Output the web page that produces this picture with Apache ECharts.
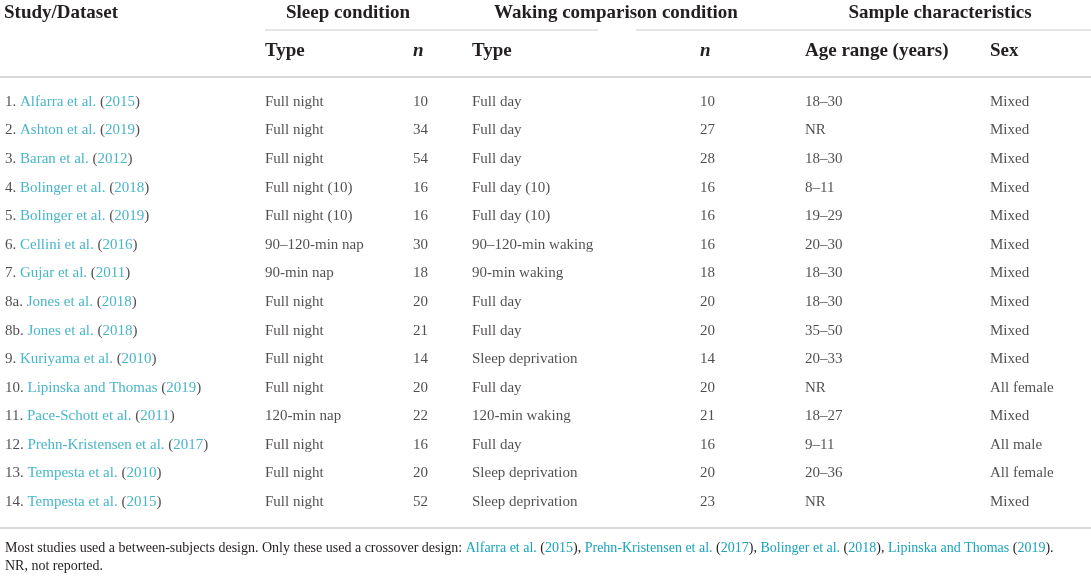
<!DOCTYPE html>
<html>
<head>
<meta charset="utf-8">
<script src="https://cdn.jsdelivr.net/npm/echarts@6/dist/echarts.min.js"></script>
<style>
  html, body { margin: 0; padding: 0; background: #fff; }
  #chart1 { width: 1091px; height: 578px; }
</style>
</head>
<body>
<div id="chart1"></div>
<script>
// table content
var studyIds = ['1.', '2.', '3.', '4.', '5.', '6.', '7.', '8a.', '8b.', '9.', '10.', '11.', '12.', '13.', '14.'];
var studyAuthors = ['Alfarra et al.', 'Ashton et al.', 'Baran et al.', 'Bolinger et al.', 'Bolinger et al.',
    'Cellini et al.', 'Gujar et al.', 'Jones et al.', 'Jones et al.', 'Kuriyama et al.',
    'Lipinska and Thomas', 'Pace-Schott et al.', 'Prehn-Kristensen et al.', 'Tempesta et al.', 'Tempesta et al.'];
var studyYears = ['2015', '2019', '2012', '2018', '2019', '2016', '2011', '2018', '2018', '2010',
    '2019', '2011', '2017', '2010', '2015'];
var sleepType = ['Full night', 'Full night', 'Full night', 'Full night (10)', 'Full night (10)',
    '90–120-min nap', '90-min nap', 'Full night', 'Full night', 'Full night',
    'Full night', '120-min nap', 'Full night', 'Full night', 'Full night'];
var sleepN = [10, 34, 54, 16, 16, 30, 18, 20, 21, 14, 20, 22, 16, 20, 52];
var wakeType = ['Full day', 'Full day', 'Full day', 'Full day (10)', 'Full day (10)',
    '90–120-min waking', '90-min waking', 'Full day', 'Full day', 'Sleep deprivation',
    'Full day', '120-min waking', 'Full day', 'Sleep deprivation', 'Sleep deprivation'];
var wakeN = [10, 27, 28, 16, 16, 16, 18, 20, 20, 14, 20, 21, 16, 20, 23];
var ageRange = ['18–30', 'NR', '18–30', '8–11', '19–29', '20–30', '18–30', '18–30', '35–50', '20–33',
    'NR', '18–27', '9–11', '20–36', 'NR'];
var sex = ['Mixed', 'Mixed', 'Mixed', 'Mixed', 'Mixed', 'Mixed', 'Mixed', 'Mixed', 'Mixed', 'Mixed',
    'All female', 'Mixed', 'All male', 'All female', 'Mixed'];

var crossoverAuthors = ['Alfarra et al.', 'Prehn-Kristensen et al.', 'Bolinger et al.', 'Lipinska and Thomas'];
var crossoverYears = ['2015', '2017', '2018', '2019'];

// layout
var SERIF = '"Liberation Serif", "DejaVu Serif", serif';
var INK = '#231f20';
var LINK = '#1aa3bb';
var RULE = '#cccccc';
var colX = { study: 5, sleepType: 265, sleepN: 413, wakeType: 472, wakeN: 700, age: 805, sex: 990 };

var rich = {
    k: { color: INK, fontSize: 15, fontFamily: SERIF },
    c: { color: LINK, fontSize: 15, fontFamily: SERIF }
};

function column(x, values, formatter) {
    return {
        type: 'scatter',
        silent: true,
        symbolSize: 0,
        itemStyle: { color: 'rgba(0,0,0,0)' },
        label: {
            show: true,
            position: 'right',
            distance: 0,
            color: INK,
            fontSize: 15,
            fontFamily: SERIF,
            rich: rich,
            formatter: formatter || function (p) { return String(values[p.dataIndex]); }
        },
        data: values.map(function (v, i) { return [x, i]; })
    };
}

function cite(author, year) {
    return '{c|' + author + '}{k| (}{c|' + year + '}{k|)}';
}

var footParts = crossoverAuthors.map(function (a, i) { return cite(a, crossoverYears[i]); });
var footText = '{k|Most studies used a between-subjects design. Only these used a crossover design: }' +
    footParts.join('{k|, }') + '{k|.}';

function headText(text, x, y, align, italic) {
    return {
        type: 'text',
        silent: true,
        style: {
            text: text,
            x: x,
            y: y,
            fill: INK,
            font: (italic ? 'italic ' : '') + 'bold 19px ' + SERIF,
            align: align || 'left',
            verticalAlign: 'middle'
        }
    };
}

function rule(x1, x2, y, w) {
    return {
        type: 'line',
        silent: true,
        shape: { x1: x1, y1: y, x2: x2, y2: y },
        style: { stroke: RULE, lineWidth: w || 1.5 }
    };
}

var myChart = echarts.init(document.getElementById('chart1'));

option = {
    animation: false,
    grid: { left: 0, right: 0, top: 87.7, height: 428.6 },
    xAxis: { type: 'value', min: 0, max: 1091, show: false },
    yAxis: {
        type: 'category',
        inverse: true,
        show: false,
        data: studyIds
    },
    graphic: [
        headText('Study/Dataset', 4, 13),
        headText('Sleep condition', 348, 13, 'center'),
        headText('Waking comparison condition', 616, 13, 'center'),
        headText('Sample characteristics', 940, 13, 'center'),
        headText('Type', 265, 51),
        headText('n', colX.sleepN, 51, 'left', true),
        headText('Type', 472, 51),
        headText('n', colX.wakeN, 51, 'left', true),
        headText('Age range (years)', 805, 51),
        headText('Sex', 990, 51),
        rule(265, 598, 30, 1.2),
        rule(636, 1091, 30, 1.2),
        rule(0, 1091, 77, 1.5),
        rule(0, 1091, 528, 1.5),
        {
            type: 'text',
            silent: true,
            style: {
                text: footText,
                x: 5, y: 548,
                rich: {
                    k: { fill: INK, fontSize: 14, fontFamily: SERIF },
                    c: { fill: LINK, fontSize: 14, fontFamily: SERIF }
                },
                verticalAlign: 'middle'
            }
        },
        {
            type: 'text',
            silent: true,
            style: {
                text: 'NR, not reported.',
                x: 5, y: 566,
                fill: INK,
                font: '14px ' + SERIF,
                verticalAlign: 'middle'
            }
        }
    ],
    series: [
        column(colX.study, studyIds, function (p) {
            var i = p.dataIndex;
            return '{k|' + studyIds[i] + ' }' + cite(studyAuthors[i], studyYears[i]);
        }),
        column(colX.sleepType, sleepType),
        column(colX.sleepN, sleepN),
        column(colX.wakeType, wakeType),
        column(colX.wakeN, wakeN),
        column(colX.age, ageRange),
        column(colX.sex, sex)
    ]
};
myChart.setOption(option);
window.onresize = myChart.resize;
</script>
</body>
</html>
